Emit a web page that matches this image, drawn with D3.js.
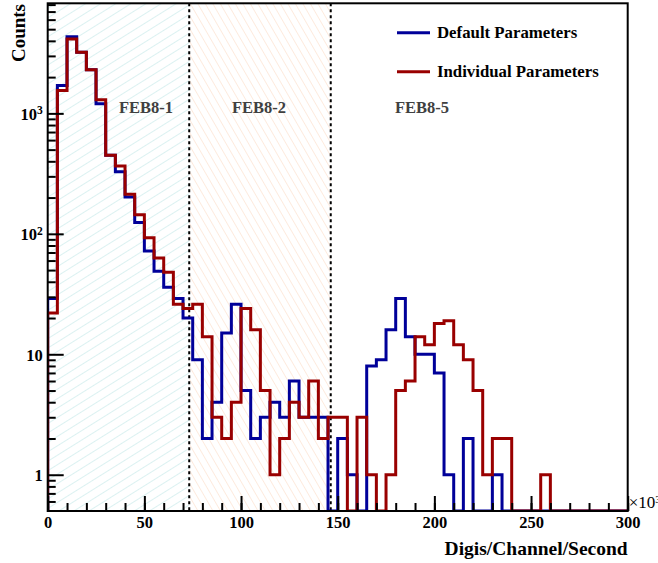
<!DOCTYPE html>
<html>
<head>
<meta charset="utf-8">
<script src="https://cdn.jsdelivr.net/npm/d3@7"></script>
<style>
  body { margin: 0; background: #fff; }
  svg { display: block; }
</style>
</head>
<body>
<svg id="chart" width="658" height="563"></svg>
<script>
// bin edges: 0..300 (x10^3) in steps of 5
const binWidth = 5;
const binStarts = d3.range(0, 300, binWidth);

// Default Parameters counts per bin
const defaultCounts = [
  29, 1700, 4330, 3210, 2300, 1200, 450, 327, 202, 124,
  72, 49, 36, 29, 20, 9, 2, 4, 15, 26,
  5, 2, 3, 4, 3, 6, 3, 3, 3, 0,
  2, 1, 0, 8, 9, 16, 29, 14, 10, 10,
  7, 1, 0, 2, 0, 0, 1, 0, 0, 0,
  0, 0, 0, 0, 0, 0, 0, 0, 0, 0
];

// Individual Parameters counts per bin
const individualCounts = [
  22, 1550, 4140, 3210, 2300, 1300, 450, 365, 213, 144,
  93, 63, 48, 26, 24, 26, 14, 3, 2, 4,
  24, 16, 5, 1, 2, 4, 3, 6, 2, 3,
  3, 0, 3, 1, 0, 1, 5, 6, 14, 12,
  18, 19, 12, 9, 5, 1, 2, 2, 0, 0,
  0, 1, 0, 0, 0, 0, 0, 0, 0, 0
];

const seriesNames = ["Default Parameters", "Individual Parameters"];
const regionNames = ["FEB8-1", "FEB8-2", "FEB8-5"];
const regionEdges = [0, 73.2, 146.4, 300];
const xMajorTicks = [0, 50, 100, 150, 200, 250, 300];
const xMinorTicks = d3.range(0, 301, 10);
const yMajorTicks = [1, 10, 100, 1000];
const yMinorTicks = [0.6, 0.7, 0.8, 0.9]
  .concat(d3.range(2, 10), d3.range(20, 100, 10), d3.range(200, 1000, 100), d3.range(2000, 9000, 1000));

const frame = { left: 47.7, right: 627.7, top: 3.3, bottom: 511 };
const serif = "'Liberation Serif', 'Times New Roman', serif";
const blue = "#000099", red = "#990000";

const svg = d3.select("#chart");

const x = d3.scaleLinear().domain([0, 300]).range([frame.left, frame.right]);
const y = d3.scaleLog().domain([0.5, 8200]).range([frame.bottom, frame.top]);

// hatch patterns for the FEB regions
const defs = svg.append("defs");
const p1 = defs.append("pattern")
  .attr("id", "hatchCyan").attr("patternUnits", "userSpaceOnUse")
  .attr("width", 8).attr("height", 8)
  .attr("patternTransform", "rotate(58)");
p1.append("line").attr("x1", 0).attr("y1", 0).attr("x2", 0).attr("y2", 8)
  .attr("stroke", "#b8e4e4").attr("stroke-width", 1);
const p2 = defs.append("pattern")
  .attr("id", "hatchOrange").attr("patternUnits", "userSpaceOnUse")
  .attr("width", 6.5).attr("height", 6.5)
  .attr("patternTransform", "rotate(-30)");
p2.append("line").attr("x1", 0).attr("y1", 0).attr("x2", 0).attr("y2", 6.5)
  .attr("stroke", "#fcd8bf").attr("stroke-width", 1);

defs.append("clipPath").attr("id", "frameClip")
  .append("rect")
  .attr("x", frame.left).attr("y", frame.top)
  .attr("width", frame.right - frame.left).attr("height", frame.bottom - frame.top);

const fills = ["url(#hatchCyan)", "url(#hatchOrange)"];
svg.append("g").selectAll("rect")
  .data(fills)
  .join("rect")
  .attr("x", (d, i) => x(regionEdges[i]))
  .attr("y", frame.top)
  .attr("width", (d, i) => x(regionEdges[i + 1]) - x(regionEdges[i]))
  .attr("height", frame.bottom - frame.top)
  .attr("fill", d => d);

// dotted region separators
svg.append("g").selectAll("line")
  .data(regionEdges.slice(1, 3))
  .join("line")
  .attr("x1", d => x(d)).attr("x2", d => x(d))
  .attr("y1", frame.top).attr("y2", frame.bottom)
  .attr("stroke", "#000").attr("stroke-width", 2)
  .attr("stroke-dasharray", "3,3");

// region labels
const labelCenters = [146, 259, 422];
svg.append("g").selectAll("text")
  .data(regionNames)
  .join("text")
  .attr("x", (d, i) => labelCenters[i])
  .attr("y", 113)
  .attr("text-anchor", "middle")
  .attr("font-family", serif).attr("font-weight", "bold")
  .attr("font-size", 16.5).attr("fill", "#404040")
  .text(d => d);

// step outline like a ROOT histogram
function stepPath(counts) {
  const lo = y.domain()[0];
  const v = c => y(Math.max(c, lo));
  let p = "M" + x(0) + "," + y(lo);
  counts.forEach(function (c, i) {
    p += "V" + v(c) + "H" + x(binStarts[i] + binWidth);
  });
  p += "V" + y(lo);
  return p;
}

const hists = svg.append("g").attr("clip-path", "url(#frameClip)");
[[defaultCounts, blue], [individualCounts, red]].forEach(function (s) {
  hists.append("path")
    .attr("d", stepPath(s[0]))
    .attr("fill", "none")
    .attr("stroke", s[1])
    .attr("stroke-width", 3)
    .attr("stroke-linejoin", "miter");
});

// axes
const xAxis = svg.append("g")
  .attr("transform", "translate(0," + frame.bottom + ")")
  .call(d3.axisBottom(x).tickValues(xMajorTicks).tickSize(-15).tickPadding(5).tickFormat(d3.format("d")));
svg.append("g")
  .attr("transform", "translate(0," + frame.bottom + ")")
  .call(d3.axisBottom(x).tickValues(xMinorTicks).tickSize(-8).tickFormat(""))
  .call(g => g.select(".domain").remove());

const yAxis = svg.append("g")
  .attr("transform", "translate(" + frame.left + ",0)")
  .call(d3.axisLeft(y).tickValues(yMajorTicks).tickSize(-16).tickPadding(5).tickFormat(""));
svg.append("g")
  .attr("transform", "translate(" + frame.left + ",0)")
  .call(d3.axisLeft(y).tickValues(yMinorTicks).tickSize(-8).tickFormat(""))
  .call(g => g.select(".domain").remove());

svg.selectAll(".tick line").attr("stroke", "#000").attr("stroke-width", 2);
svg.selectAll(".domain").remove();

xAxis.selectAll("text")
  .attr("font-family", serif).attr("font-weight", "bold")
  .attr("font-size", 16.5).attr("fill", "#000");

yAxis.selectAll(".tick").append("text")
  .attr("x", -5).attr("dy", "0.35em")
  .attr("text-anchor", "end")
  .attr("font-family", serif).attr("font-weight", "bold")
  .attr("font-size", 16.5).attr("fill", "#000")
  .each(function (d) {
    const t = d3.select(this);
    if (d < 100) {
      t.text(d);
    } else {
      t.text("10");
      t.append("tspan").attr("dy", "-0.45em").attr("font-size", 11.5)
        .text(String(Math.round(Math.log10(d))));
    }
  });

// frame
svg.append("rect")
  .attr("x", frame.left).attr("y", frame.top)
  .attr("width", frame.right - frame.left).attr("height", frame.bottom - frame.top)
  .attr("fill", "none").attr("stroke", "#000").attr("stroke-width", 2);

// x10^3 multiplier
const mult = svg.append("text")
  .attr("x", frame.right + 1).attr("y", 508)
  .attr("font-family", serif).attr("font-size", 17).attr("fill", "#000")
  .text("\u00d710");
mult.append("tspan").attr("dy", "-0.45em").attr("font-size", 11).text("3");

// axis titles
svg.append("text")
  .attr("transform", "translate(25,4) rotate(-90)")
  .attr("text-anchor", "end")
  .attr("font-family", serif).attr("font-weight", "bold")
  .attr("font-size", 19).attr("fill", "#000")
  .text("Counts");

svg.append("text")
  .attr("x", frame.right).attr("y", 555)
  .attr("text-anchor", "end")
  .attr("font-family", serif).attr("font-weight", "bold")
  .attr("font-size", 19.5).attr("fill", "#000")
  .text("Digis/Channel/Second");

// legend
const legend = svg.append("g").selectAll("g")
  .data(seriesNames)
  .join("g")
  .attr("transform", (d, i) => "translate(397," + (32.7 + i * 39) + ")");
legend.append("line")
  .attr("x1", 0).attr("x2", 33).attr("y1", 0).attr("y2", 0)
  .attr("stroke", (d, i) => i === 0 ? blue : red)
  .attr("stroke-width", 3);
legend.append("text")
  .attr("x", 40).attr("y", 5.6)
  .attr("font-family", serif).attr("font-weight", "bold")
  .attr("font-size", 16.8).attr("fill", "#000")
  .text(d => d);
</script>
</body>
</html>
